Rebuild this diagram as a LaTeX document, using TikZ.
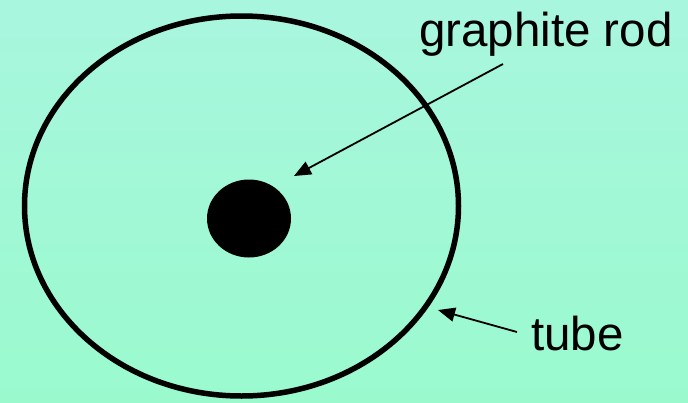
\documentclass[tikz,border=0pt]{standalone}
\usepackage{fontspec}
\setmainfont{Liberation Sans}
\usetikzlibrary{arrows.meta}
\definecolor{bgtop}{RGB}{168,246,222}
\definecolor{bgbot}{RGB}{154,250,206}
\tikzset{
  pointer/.style={line width=1.8pt,-{Triangle[length=17pt,width=14pt]}},
  lbl/.style={font=\fontsize{47.5}{52}\selectfont,inner sep=0pt,anchor=base west},
}
\begin{document}
\begin{tikzpicture}[x=1pt,y=-1pt]
\shade[top color=bgtop,bottom color=bgbot] (0,0) rectangle (688,402);
\useasboundingbox (0,0) rectangle (688,402);
\draw[line width=5.5pt] (241.5,206) ellipse [x radius=217, y radius=190];
\fill (249,218.5) ellipse [x radius=42, y radius=39];
\node[lbl] (g) at (419,46) {graphite rod};
\node[lbl] (t) at (531,350) {tube};
\coordinate (gs) at (503,64);
\coordinate (gt) at (294,176);
\coordinate (ts) at (517,332);
\coordinate (tt) at (438,310);
\draw[pointer] (gs) -- (gt);
\draw[pointer] (ts) -- (tt);
\end{tikzpicture}
\end{document}
